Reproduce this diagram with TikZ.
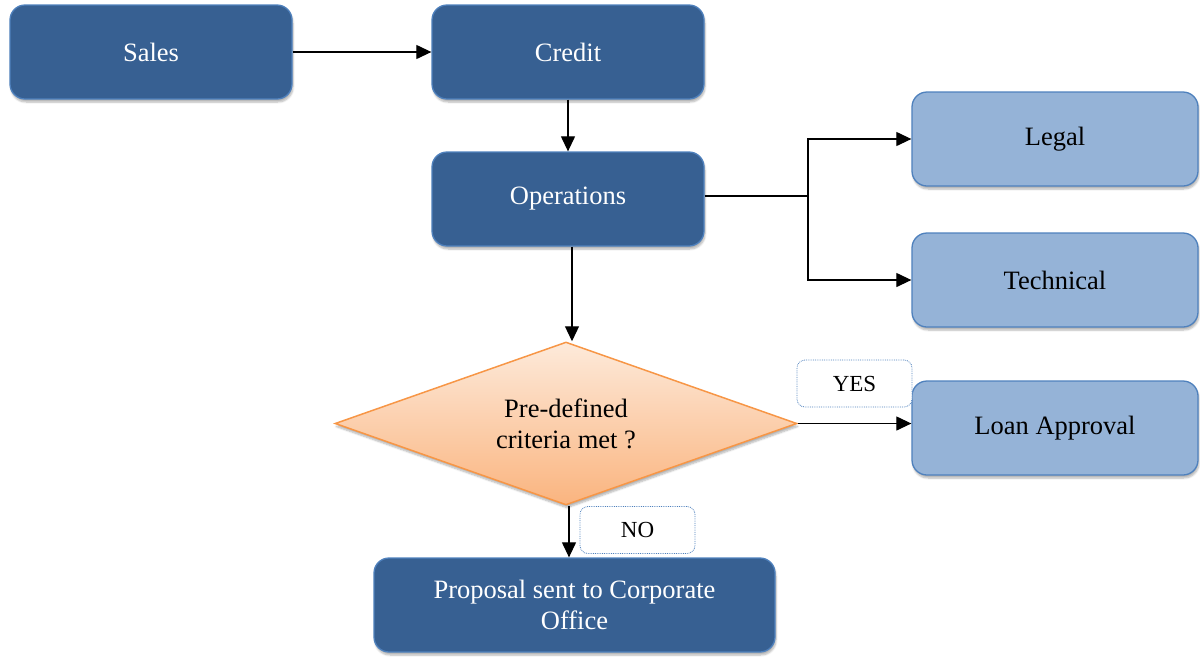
\documentclass[tikz,border=0pt]{standalone}
\usepackage{fontspec}
\setmainfont{Liberation Serif}
\usetikzlibrary{shapes.geometric,arrows.meta,shadows.blur}
\definecolor{darkbox}{HTML}{376092}
\definecolor{boxline}{HTML}{4F81BD}
\definecolor{lightbox}{HTML}{95B3D7}
\definecolor{diaTop}{HTML}{FDEADA}
\definecolor{diaBot}{HTML}{FAB47F}
\definecolor{diaLine}{HTML}{F79646}
\tikzset{
  shd/.style={blur shadow={shadow blur steps=6, shadow xshift=1pt, shadow yshift=-3pt, shadow opacity=30}},
  darkstep/.style={draw=boxline, line width=1.3pt, fill=darkbox, rounded corners=15pt, text=white,
    font=\fontsize{26.5}{31}\selectfont, align=center, inner sep=0pt, shd},
  lightstep/.style={draw=boxline, line width=1.3pt, fill=lightbox, rounded corners=15pt, text=black,
    font=\fontsize{26.5}{31}\selectfont, align=center, inner sep=0pt, shd},
  decision/.style={diamond, draw=diaLine, line width=1.5pt, top color=diaTop, bottom color=diaBot,
    font=\fontsize{26.5}{31}\selectfont, align=center, inner sep=0pt, aspect=2.83,
    minimum width=462pt, minimum height=163pt, shd},
  tag/.style={draw=boxline, densely dotted, line width=0.8pt, fill=white, rounded corners=8pt,
    font=\fontsize{23}{27}\selectfont, inner sep=0pt, minimum width=115pt, minimum height=47pt},
  arr/.style={line width=1.2pt, -{Triangle[length=15pt,width=14pt]}},
  ln/.style={line width=1.2pt}
}
\begin{document}
\begin{tikzpicture}[x=1pt,y=-1pt]
\useasboundingbox (0,0) rectangle (1200,657);
\node[darkstep, minimum width=282pt, minimum height=94pt] (sales) at (151,52) {Sales};
\node[darkstep, minimum width=272pt, minimum height=94pt] (credit) at (568,52) {Credit};
\node[darkstep, minimum width=272pt, minimum height=94pt] (ops) at (568,199) {Operations};
\node[lightstep, minimum width=286pt, minimum height=94pt] (legal) at (1055,139) {Legal};
\node[lightstep, minimum width=286pt, minimum height=94pt] (tech) at (1055,280) {Technical};
\node[lightstep, minimum width=286pt, minimum height=94pt] (loan) at (1055,428) {Loan Approval};
\node[decision] (dia) at (566,423.5) {Pre-defined\\criteria met ?};
\node[darkstep, minimum width=401pt, minimum height=94pt] (prop) at (574.5,605) {Proposal sent to Corporate\\Office};
\node[tag] (yes) at (854.5,383.5) {YES};
\node[tag] (no) at (637.5,530) {NO};

\coordinate (j) at (808,196);
\coordinate (opsR) at (ops.east |- j);
\draw[arr] (sales.east) -- (credit.west);
\draw[arr] (credit.south) -- (ops.north);
\draw[ln] (opsR) -- (j);
\draw[arr] (j) |- (legal.west);
\draw[arr] (j) |- (tech.west);
\coordinate (opsB) at ([xshift=4pt]ops.south);
\draw[arr] (opsB) -- (opsB |- dia.north);
\draw[arr] (dia.east) -- (dia.east -| loan.west);
\coordinate (diaB) at ([xshift=3pt]dia.south);
\draw[arr] (diaB) -- (diaB |- prop.north);
\end{tikzpicture}
\end{document}
